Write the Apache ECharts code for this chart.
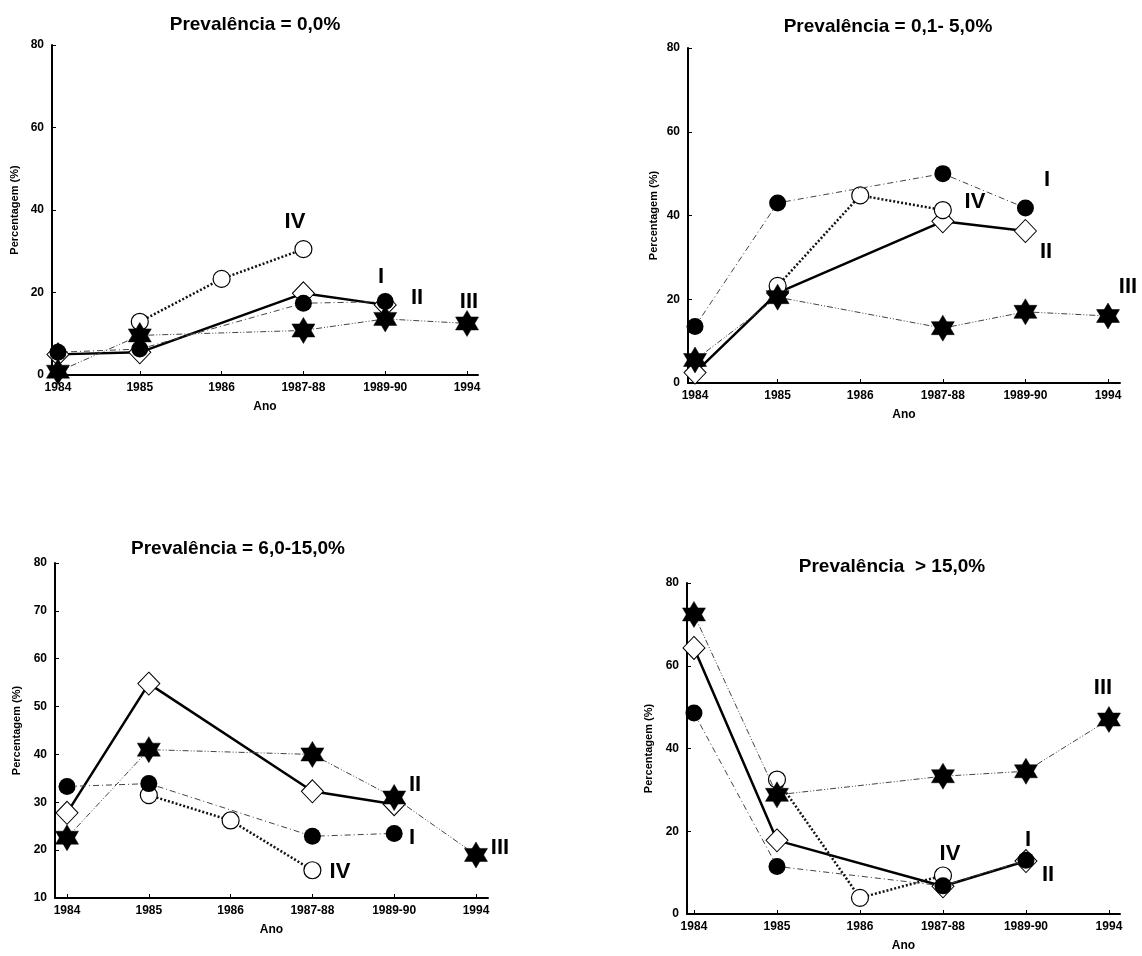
<!DOCTYPE html>
<html>
<head>
<meta charset="utf-8">
<script src="https://cdn.jsdelivr.net/npm/echarts@6/dist/echarts.min.js"></script>
<style>
  html, body { margin: 0; padding: 0; background: #fff; }
  #main { width: 1142px; height: 956px; }
</style>
</head>
<body>
<div id="main"></div>
<script>
// categorias do eixo x
var anos = ['1984', '1985', '1986', '1987-88', '1989-90', '1994'];

var titulos = ['Prevalência = 0,0%', 'Prevalência = 0,1- 5,0%', 'Prevalência = 6,0-15,0%', 'Prevalência  > 15,0%'];

// Prevalência = 0,0%
var p1_I   = [5.5, 6.3, null, 17.4, 17.8, null];
var p1_II  = [5, 5.5, null, 19.8, 17, null];
var p1_III = [0.8, 9.6, null, 10.8, 13.6, 12.5];
var p1_IV  = [null, 12.9, 23.3, 30.5, null, null];

// Prevalência = 0,1-5,0%
var p2_I   = [13.5, 43, null, 50, 41.8, null];
var p2_II  = [2.5, 21.5, null, 38.6, 36.3, null];
var p2_III = [5.5, 20.5, null, 13.1, 17, 16];
var p2_IV  = [null, 23.2, 44.8, 41.3, null, null];

// Prevalência = 6,0-15,0%
var p3_I   = [33.3, 33.9, null, 22.9, 23.5, null];
var p3_II  = [27.8, 54.8, null, 32.3, 29.6, null];
var p3_III = [22.6, 41, null, 40, 31, 19];
var p3_IV  = [null, 31.5, 26.2, 15.8, null, null];

// Prevalência > 15,0%
var p4_I   = [48.6, 11.5, null, 6.8, 13, null];
var p4_II  = [64.3, 17.8, null, 6.7, 12.8, null];
var p4_III = [72.4, 28.8, null, 33.3, 34.5, 47];
var p4_IV  = [null, 32.5, 3.9, 9.3, null, null];

var dados = [
  [p1_I, p1_II, p1_III, p1_IV],
  [p2_I, p2_II, p2_III, p2_IV],
  [p3_I, p3_II, p3_III, p3_IV],
  [p4_I, p4_II, p4_III, p4_IV]
];

// ticks do eixo y
var yMin = [0, 0, 10, 0];
var yMax = [80, 80, 80, 80];
var yStep = [20, 20, 10, 20];

// layout de cada painel (px)
var paineis = [
  { left: 52,  top: 45,  width: 426, height: 330, xmin: -0.073, xmax: 5.134, nameGap: 32, titleX: 250, titleY: 10 },
  { left: 688, top: 48,  width: 432, height: 335, xmin: -0.085, xmax: 5.145, nameGap: 29, titleX: 883, titleY: 12 },
  { left: 55,  top: 563, width: 433, height: 335, xmin: -0.147, xmax: 5.147, nameGap: 33, titleX: 233, titleY: 534 },
  { left: 687, top: 583, width: 433, height: 331, xmin: -0.084, xmax: 5.133, nameGap: 33, titleX: 887, titleY: 552 }
];

// rótulos dos grupos (texto, x, y em px)
var rotulos = [
  ['IV', 295, 222], ['I', 381, 277], ['II', 417, 298], ['III', 469, 302],
  ['I', 1047, 180], ['IV', 975, 202], ['II', 1046, 252], ['III', 1128, 287],
  ['II', 415, 785], ['I', 412, 838], ['IV', 340, 872], ['III', 500, 848],
  ['III', 1103, 688], ['IV', 950, 854], ['I', 1028, 840], ['II', 1048, 875]
];

var fonte = "'Liberation Sans Narrow', 'Liberation Sans', Arial, sans-serif";
var estrela = 'path://M10,0 L18.66,15 L1.34,15 Z M10,20 L1.34,5 L18.66,5 Z';

// estilo de cada grupo: I, II, III, IV
var estilos = [
  { symbol: 'circle', symbolSize: 17, itemStyle: { color: '#000' },
    lineStyle: { color: '#444', width: 1, type: [6, 3, 1, 3] } },
  { symbol: 'diamond', symbolSize: [22, 23], itemStyle: { color: '#fff', borderColor: '#000', borderWidth: 1 },
    lineStyle: { color: '#000', width: 2.5, type: 'solid' } },
  { symbol: estrela, symbolSize: [23, 26], itemStyle: { color: '#000', borderColor: '#000', borderWidth: 0.5 },
    lineStyle: { color: '#444', width: 1, type: [6, 2, 1, 2, 1, 2] } },
  { symbol: 'circle', symbolSize: 17, itemStyle: { color: '#fff', borderColor: '#000', borderWidth: 1.2 },
    lineStyle: { color: '#111', width: 2.5, type: [2, 2] } }
];
var nomes = ['I', 'II', 'III', 'IV'];
var ordem = [1, 3, 0, 2]; // ordem de desenho: II, IV, I, III

var option = {
  backgroundColor: '#fff',
  animation: false,
  title: [],
  grid: [],
  xAxis: [],
  yAxis: [],
  series: [],
  graphic: []
};

paineis.forEach(function (p, k) {
  option.title.push({
    text: titulos[k],
    left: p.titleX,
    top: p.titleY,
    textAlign: 'center',
    textStyle: { fontFamily: "'Liberation Sans', Arial, sans-serif", fontSize: 19, fontWeight: 'bold', color: '#000' }
  });
  option.grid.push({ left: p.left, top: p.top, width: p.width, height: p.height, containLabel: false });
  option.xAxis.push({
    type: 'value',
    gridIndex: k,
    min: p.xmin,
    max: p.xmax,
    name: 'Ano',
    nameLocation: 'middle',
    nameGap: 26,
    nameTextStyle: { fontFamily: fonte, fontSize: 12, fontWeight: 'bold', color: '#000' },
    axisLine: { show: true, onZero: false, lineStyle: { color: '#000', width: 2 } },
    axisTick: { show: true, inside: true, length: 4, customValues: [0, 1, 2, 3, 4, 5], lineStyle: { color: '#000' } },
    axisLabel: {
      customValues: [0, 1, 2, 3, 4, 5],
      formatter: function (v) { return anos[Math.round(v)]; },
      fontFamily: fonte, fontSize: 12, fontWeight: 'bold', color: '#000', margin: 7
    },
    splitLine: { show: false }
  });
  option.yAxis.push({
    type: 'value',
    gridIndex: k,
    min: yMin[k],
    max: yMax[k],
    interval: yStep[k],
    name: 'Percentagem (%)',
    nameLocation: 'middle',
    nameRotate: 90,
    nameGap: p.nameGap,
    nameTextStyle: { fontFamily: fonte, fontSize: 11, fontWeight: 'bold', color: '#000' },
    axisLine: { show: true, onZero: false, lineStyle: { color: '#000', width: 2 } },
    axisTick: { show: true, inside: true, length: 4, lineStyle: { color: '#000' } },
    axisLabel: { fontFamily: fonte, fontSize: 12, fontWeight: 'bold', color: '#000', margin: 8 },
    splitLine: { show: false }
  });

  ordem.forEach(function (g, pos) {
    var st = estilos[g];
    var pts = [];
    dados[k][g].forEach(function (v, i) { if (v != null) pts.push([i, v]); });
    option.series.push({
      name: nomes[g],
      type: 'line',
      xAxisIndex: k,
      yAxisIndex: k,
      data: pts,
      symbol: st.symbol,
      symbolSize: st.symbolSize,
      itemStyle: st.itemStyle,
      lineStyle: st.lineStyle,
      z: 2 + pos
    });
  });
});

rotulos.forEach(function (r) {
  option.graphic.push({
    type: 'text',
    x: r[1],
    y: r[2],
    z: 100,
    style: {
      text: r[0],
      fontFamily: "'Liberation Sans', Arial, sans-serif",
      fontSize: 22,
      fontWeight: 'bold',
      fill: '#000',
      align: 'center',
      verticalAlign: 'middle'
    }
  });
});

var myChart = echarts.init(document.getElementById('main'));
myChart.setOption(option);
</script>
</body>
</html>
